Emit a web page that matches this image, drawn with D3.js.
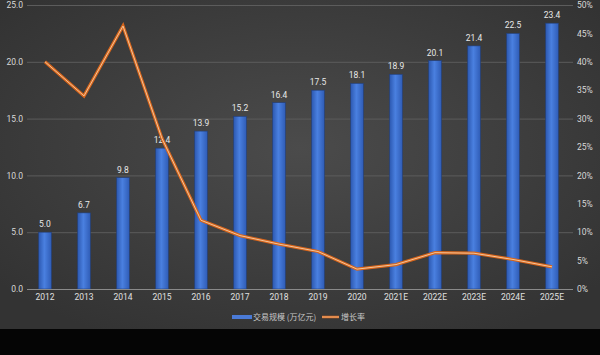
<!DOCTYPE html>
<html><head><meta charset="utf-8">
<script src="https://cdn.jsdelivr.net/npm/d3@7/dist/d3.min.js"></script>
<style>body{margin:0;background:#000;}svg{display:block;}</style>
</head><body>
<script>
const categories = ["2012","2013","2014","2015","2016","2017","2018","2019","2020","2021E","2022E","2023E","2024E","2025E"];
const scaleValues = [5.0,6.7,9.8,12.4,13.9,15.2,16.4,17.5,18.1,18.9,20.1,21.4,22.5,23.4];
const growthRates = [40.0,34.0,46.3,26.5,12.1,9.4,7.9,6.6,3.5,4.3,6.4,6.3,5.2,3.9];
const leftTicks = [0,5,10,15,20,25];
const rightTicks = [0,5,10,15,20,25,30,35,40,45,50];
const seriesNames = ["交易规模 (万亿元)","增长率"];

const W=600,H=355;
const svg=d3.select("body").append("svg").attr("width",W).attr("height",H);
const defs=svg.append("defs");
const bg=defs.append("radialGradient").attr("id","bg").attr("cx","50%").attr("cy","45%").attr("r","65%");
bg.append("stop").attr("offset","0%").attr("stop-color","#4b4b4b");
bg.append("stop").attr("offset","100%").attr("stop-color","#333333");
const bar=defs.append("linearGradient").attr("id","bar").attr("x1","0").attr("x2","1").attr("y1","0").attr("y2","0");
bar.append("stop").attr("offset","0%").attr("stop-color","#2c58b0");
bar.append("stop").attr("offset","45%").attr("stop-color","#4a80e0");
bar.append("stop").attr("offset","100%").attr("stop-color","#2f5cb6");

svg.append("rect").attr("width",W).attr("height",H).attr("fill","#050505");
svg.append("rect").attr("width",W).attr("height",329).attr("fill","url(#bg)");

const x=d3.scaleBand().domain(categories).range([25.5,571.5]).paddingInner(0.67).paddingOuter(0.335);
const y=d3.scaleLinear().domain([0,25]).range([289,5]);
const y2=d3.scaleLinear().domain([0,50]).range([289,5]);

// gridlines
svg.append("g").selectAll("line").data(leftTicks.filter(d=>d>0)).join("line")
 .attr("x1",27).attr("x2",573).attr("y1",d=>y(d)+0.5).attr("y2",d=>y(d)+0.5)
 .attr("stroke","#5c5c5c").attr("stroke-width",1);

// left axis
const la=svg.append("g").attr("transform","translate(23,0)")
 .call(d3.axisLeft(y).tickValues(leftTicks).tickFormat(d3.format(".1f")).tickSize(0).tickPadding(0));
la.select(".domain").remove();
la.selectAll("text").attr("fill","#d8d8d8").style("font-family","Roboto, 'Noto Sans', sans-serif").style("font-size","8.5px");

// right axis
const ra=svg.append("g").attr("transform","translate(577,0)")
 .call(d3.axisRight(y2).tickValues(rightTicks).tickFormat(d=>d+"%").tickSize(0).tickPadding(0));
ra.select(".domain").remove();
ra.selectAll("text").attr("fill","#d8d8d8").style("font-family","Roboto, 'Noto Sans', sans-serif").style("font-size","8.5px");

// bars
svg.append("g").selectAll("rect").data(categories).join("rect")
 .attr("x",(d)=>x(d)).attr("width",x.bandwidth())
 .attr("y",(d,i)=>y(scaleValues[i])).attr("height",(d,i)=>y(0)-y(scaleValues[i]))
 .attr("fill","url(#bar)").attr("stroke","#233f78").attr("stroke-width",0.6);

// zero line
svg.append("line").attr("x1",27).attr("x2",573).attr("y1",y(0)+0.5).attr("y2",y(0)+0.5)
 .attr("stroke","#8a8a8a").attr("stroke-width",1.2);

// bottom axis
const ba=svg.append("g").attr("transform","translate(0,294)")
 .call(d3.axisBottom(x).tickSize(0).tickPadding(0));
ba.select(".domain").remove();
ba.selectAll("text").attr("fill","#e0e0e0").attr("dy","0.71em").style("font-family","Roboto, 'Noto Sans', sans-serif").style("font-size","8.5px");

// bar labels
svg.append("g").selectAll("text").data(categories).join("text")
 .attr("x",d=>x(d)+x.bandwidth()/2).attr("y",(d,i)=>y(scaleValues[i])-5)
 .attr("text-anchor","middle").attr("fill","#e8e8e8")
 .style("font-family","Roboto, 'Noto Sans', sans-serif").style("font-size","8.5px")
 .text((d,i)=>scaleValues[i].toFixed(1));

// growth line
const line=d3.line().x((d,i)=>x(categories[i])+x.bandwidth()/2).y(d=>y2(d));
svg.append("path").datum(growthRates).attr("d",line).attr("fill","none")
 .attr("stroke","#d9661c").attr("stroke-width",3.2).attr("stroke-linejoin","miter");
svg.append("path").datum(growthRates).attr("d",line).attr("fill","none")
 .attr("stroke","#f3c59a").attr("stroke-width",1).attr("stroke-linejoin","miter");

// legend
const lg=svg.append("g").attr("transform","translate(0,317)");
lg.append("rect").attr("x",232).attr("y",-2).attr("width",20).attr("height",4).attr("fill","#4a7ad6");
lg.append("text").attr("x",253).attr("y",3).attr("fill","#c8c8c8")
 .style("font-family","'Noto Sans CJK SC', sans-serif").style("font-size","8px").text(seriesNames[0]);
lg.append("line").attr("x1",322).attr("x2",339).attr("y1",0).attr("y2",0).attr("stroke","#d9661c").attr("stroke-width",2.5);
lg.append("line").attr("x1",322).attr("x2",339).attr("y1",0).attr("y2",0).attr("stroke","#f3c59a").attr("stroke-width",0.8);
lg.append("text").attr("x",341).attr("y",3).attr("fill","#c8c8c8")
 .style("font-family","'Noto Sans CJK SC', sans-serif").style("font-size","8px").text(seriesNames[1]);
</script>
</body></html>
